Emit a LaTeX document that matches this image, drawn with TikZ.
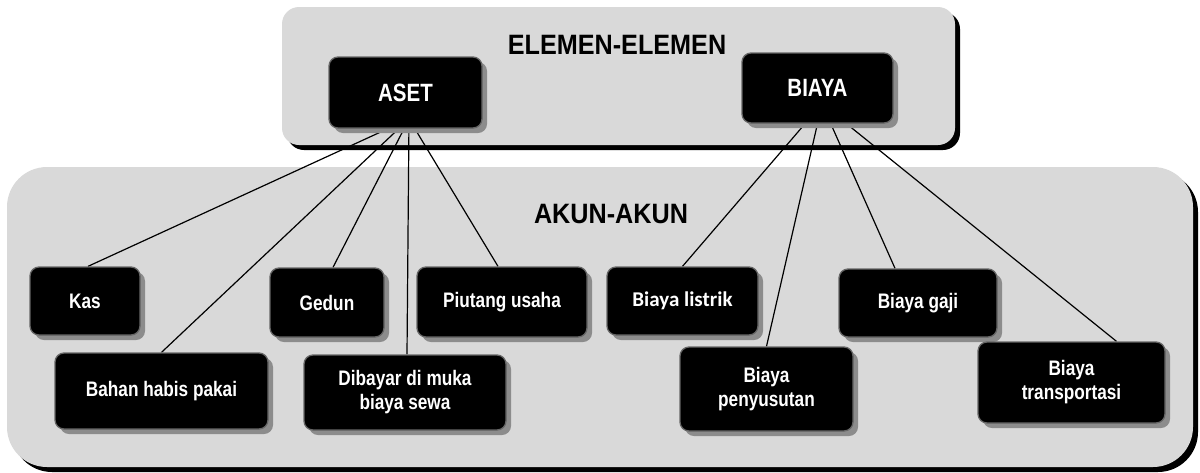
\documentclass[tikz,border=0pt]{standalone}
\usepackage{fontspec}
\usetikzlibrary{shadows}
\newfontfamily\narrowbf[FakeStretch=0.82]{Liberation Sans Bold}
\newfontfamily\titlebf[FakeStretch=0.9]{Liberation Sans Bold}
\newfontfamily\calbf{Carlito Bold}
\definecolor{panelgrey}{HTML}{D9D9D9}
\pgfdeclarelayer{panels}
\pgfdeclarelayer{lines}
\pgfsetlayers{panels,lines,main}
\tikzset{
  box/.style={rectangle, rounded corners=9pt, fill=black, draw=black!60, line width=1.3pt,
    text=white, align=center, inner sep=0pt,
    drop shadow={shadow xshift=5pt, shadow yshift=-5pt, fill=black!45, opacity=1}},
  topbox/.style={box, font=\narrowbf\fontsize{25}{28}\selectfont},
  leaf/.style={box, font=\narrowbf\fontsize{21}{24}\selectfont},
  title/.style={font=\titlebf\fontsize{28}{32}\selectfont, inner sep=0pt},
  link/.style={draw=black, line width=1.2pt}
}
\begin{document}
\begin{tikzpicture}[x=1pt,y=-1pt]
\useasboundingbox (0,0) rectangle (1200,472);
\begin{pgfonlayer}{panels}
  \fill[black, rounded corners=17pt] (287,12) rectangle (960,150);
  \fill[panelgrey, rounded corners=17pt] (282,7) rectangle (955,145);
  \fill[black, rounded corners=40pt] (12,172) rectangle (1198,472);
  \fill[panelgrey, rounded corners=40pt] (7,167) rectangle (1193,467);
\end{pgfonlayer}

\node[title] (t1) at (617,45) {ELEMEN-ELEMEN};
\node[title] (t2) at (611,214) {AKUN-AKUN};

\node[topbox, minimum width=153pt, minimum height=71pt] (aset) at (405.5,92.5) {ASET};
\node[topbox, minimum width=151pt, minimum height=70pt] (biaya) at (817.5,88) {BIAYA};

\node[leaf, minimum width=110pt, minimum height=68pt] (kas) at (85,301) {Kas};
\node[leaf, minimum width=213pt, minimum height=76pt] (bahan) at (161.5,391) {Bahan habis pakai};
\node[leaf, minimum width=114pt, minimum height=69pt] (gedun) at (327,302.5) {Gedun};
\node[leaf, minimum width=202pt, minimum height=75pt] (dibayar) at (405,392.5) {Dibayar di muka\\biaya sewa};
\node[leaf, minimum width=170pt, minimum height=70pt] (piutang) at (502,302) {Piutang usaha};

\node[leaf, font=\calbf\fontsize{21}{24}\selectfont, minimum width=151pt, minimum height=68pt] (listrik) at (682.5,301) {Biaya listrik};
\node[leaf, minimum width=173pt, minimum height=84pt] (susut) at (766.5,389) {Biaya\\penyusutan};
\node[leaf, minimum width=158pt, minimum height=68pt] (gaji) at (918,303) {Biaya gaji};
\node[leaf, minimum width=187pt, minimum height=81pt] (trans) at (1071.5,382.5) {Biaya\\transportasi};

\coordinate (ahub) at (409,119);
\coordinate (bhub) at (822,104);

\begin{pgfonlayer}{lines}
  \draw[link] (ahub) -- ([xshift=3pt]kas.north);
  \draw[link] (ahub) -- (bahan.north);
  \draw[link] (ahub) -- ([xshift=6pt]gedun.north);
  \draw[link] (ahub) -- ([xshift=2pt]dibayar.north);
  \draw[link] (ahub) -- ([xshift=-4pt]piutang.north);
  \draw[link] (bhub) -- (listrik.north);
  \draw[link] (bhub) -- (susut.north);
  \draw[link] (bhub) -- ([xshift=-23pt]gaji.north);
  \draw[link] (bhub) -- ([xshift=45pt]trans.north);
\end{pgfonlayer}
\end{tikzpicture}
\end{document}
